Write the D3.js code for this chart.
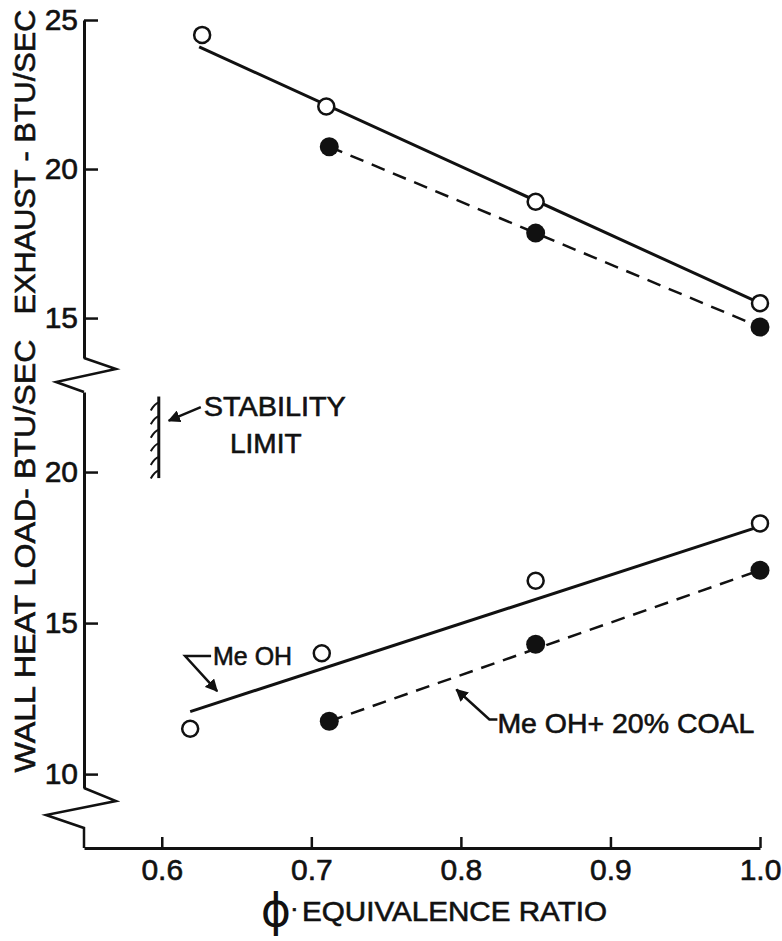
<!DOCTYPE html>
<html>
<head>
<meta charset="utf-8">
<script src="https://cdn.jsdelivr.net/npm/d3@7"></script>
<style>
  body { margin: 0; background: #fff; }
  text { font-family: "Liberation Sans", Arial, sans-serif; fill: #111; stroke: #111; stroke-width: 0.6; }
</style>
</head>
<body>
<div id="chart"></div>
<script>
// values
const xTicks = [0.6, 0.7, 0.8, 0.9, 1.0];
const yTicksTop = [15, 20, 25];
const yTicksBot = [10, 15, 20];

// exhaust (upper panel)
const phiMeOHTop = [0.627, 0.71, 0.85, 1.0];
const exhaustMeOH = [24.5, 22.1, 18.9, 15.5];
const phiCoal = [0.712, 0.85, 1.0];
const exhaustCoal = [20.75, 17.85, 14.7];
// fitted lines (ends)
const exhaustFitPhi = [0.625, 1.0];
const exhaustFitMeOH = [24.1, 15.5];
const exhaustFitCoal = [20.75, 14.7];

// wall heat load (lower panel)
const phiMeOHBot = [0.619, 0.707, 0.85, 1.0];
const wallMeOH = [11.5, 14.0, 16.4, 18.3];
const wallCoal = [11.75, 14.3, 16.75];
const wallFitPhi = [0.619, 1.0];
const wallFitMeOH = [12.07, 18.2];
const wallFitCoalPhi = [0.712, 1.0];
const wallFitCoal = [11.75, 16.75];

// stability limit bar
const stabPhi = 0.598;
const stabRange = [22.5, 19.8];

const W = 782, H = 941;
const axisX = 84, axisY = 848;

const svg = d3.select("#chart").append("svg")
    .attr("width", W)
    .attr("height", H);

svg.append("defs").append("marker")
    .attr("id", "arr")
    .attr("viewBox", "0 0 10 10")
    .attr("refX", 9).attr("refY", 5)
    .attr("markerWidth", 5).attr("markerHeight", 5)
    .attr("markerUnits", "strokeWidth")
    .attr("orient", "auto")
  .append("path")
    .attr("d", "M0,0 L10,5 L0,10 z")
    .attr("fill", "#111");

// scales
const x = d3.scaleLinear().domain([0.548, 1.0]).range([axisX, 760]);
const yTop = d3.scaleLinear().domain([13.66, 25]).range([358, 20]);
const yBot = d3.scaleLinear().domain([9.54, 22.65]).range([788, 392]);

function styleAxis(g) {
  g.selectAll(".domain").attr("stroke", "#111").attr("stroke-width", 3);
  g.selectAll(".tick line").attr("stroke", "#111").attr("stroke-width", 2.5);
  g.selectAll(".tick text").attr("font-size", 30).attr("fill", "#111")
    .attr("font-family", "Liberation Sans, Arial, sans-serif");
}

// y axes
svg.append("g")
  .attr("transform", "translate(" + axisX + ",0)")
  .call(d3.axisLeft(yTop).tickValues(yTicksTop).tickFormat(d3.format("d"))
    .tickSize(-14).tickSizeOuter(0).tickPadding(6))
  .call(styleAxis);

svg.append("g")
  .attr("transform", "translate(" + axisX + ",0)")
  .call(d3.axisLeft(yBot).tickValues(yTicksBot).tickFormat(d3.format("d"))
    .tickSize(-14).tickSizeOuter(0).tickPadding(6))
  .call(styleAxis);

// x axis
svg.append("g")
  .attr("transform", "translate(0," + axisY + ")")
  .call(d3.axisBottom(x).tickValues(xTicks).tickFormat(d3.format(".1f"))
    .tickSize(-11).tickSizeOuter(0).tickPadding(11))
  .call(styleAxis);

// axis breaks (zigzags)
const zig = d3.line();
svg.append("path")
  .attr("d", zig([[axisX, yTop.range()[0]], [axisX + 32, 369], [axisX - 28, 382], [axisX, yBot.range()[1]]]))
  .attr("fill", "none").attr("stroke", "#111").attr("stroke-width", 2.5);
svg.append("path")
  .attr("d", zig([[axisX, yBot.range()[0]], [axisX + 32, 801], [axisX - 38, 815], [axisX, 828], [axisX, axisY]]))
  .attr("fill", "none").attr("stroke", "#111").attr("stroke-width", 2.5);

// axis titles
svg.append("text")
  .attr("transform", "translate(35,162) rotate(-90)")
  .attr("text-anchor", "middle")
  .attr("font-size", 30)
  .attr("textLength", 305).attr("lengthAdjust", "spacingAndGlyphs")
  .text("EXHAUST - BTU/SEC");

svg.append("text")
  .attr("transform", "translate(35,556) rotate(-90)")
  .attr("text-anchor", "middle")
  .attr("font-size", 30)
  .attr("textLength", 433).attr("lengthAdjust", "spacingAndGlyphs")
  .text("WALL HEAT LOAD- BTU/SEC");

svg.append("text")
  .attr("x", 276).attr("y", 926)
  .attr("text-anchor", "middle")
  .attr("font-size", 46)
  .style("font-family", "DejaVu Sans")
  .style("stroke-width", 0)
  .text("\u03D5");
svg.append("text")
  .attr("x", 290).attr("y", 917)
  .attr("font-size", 26)
  .text("\u00B7");
svg.append("text")
  .attr("x", 302).attr("y", 921)
  .attr("font-size", 28)
  .attr("textLength", 305).attr("lengthAdjust", "spacingAndGlyphs")
  .text("EQUIVALENCE  RATIO");

// lines
const line2 = (xs, ys, yScale) => d3.line()
  .x(d => x(d[0])).y(d => yScale(d[1]))(d3.zip(xs, ys));

svg.append("path")
  .attr("d", line2(exhaustFitPhi, exhaustFitMeOH, yTop))
  .attr("fill", "none").attr("stroke", "#111").attr("stroke-width", 3);
svg.append("path")
  .attr("d", line2([phiCoal[0], phiCoal[2]], exhaustFitCoal, yTop))
  .attr("fill", "none").attr("stroke", "#111").attr("stroke-width", 2.5)
  .attr("stroke-dasharray", "14,9");

svg.append("path")
  .attr("d", line2(wallFitPhi, wallFitMeOH, yBot))
  .attr("fill", "none").attr("stroke", "#111").attr("stroke-width", 3);
svg.append("path")
  .attr("d", line2(wallFitCoalPhi, wallFitCoal, yBot))
  .attr("fill", "none").attr("stroke", "#111").attr("stroke-width", 2.5)
  .attr("stroke-dasharray", "14,9");

// points
function openPts(xs, ys, yScale) {
  svg.append("g").selectAll("circle")
    .data(d3.zip(xs, ys))
    .join("circle")
      .attr("cx", d => x(d[0])).attr("cy", d => yScale(d[1]))
      .attr("r", 8).attr("fill", "#fff")
      .attr("stroke", "#111").attr("stroke-width", 2.5);
}
function filledPts(xs, ys, yScale) {
  svg.append("g").selectAll("circle")
    .data(d3.zip(xs, ys))
    .join("circle")
      .attr("cx", d => x(d[0])).attr("cy", d => yScale(d[1]))
      .attr("r", 9.5).attr("fill", "#111");
}
openPts(phiMeOHTop, exhaustMeOH, yTop);
filledPts(phiCoal, exhaustCoal, yTop);
openPts(phiMeOHBot, wallMeOH, yBot);
filledPts(phiCoal, wallCoal, yBot);

// stability limit
const sx = x(stabPhi);
svg.append("line")
  .attr("x1", sx).attr("x2", sx)
  .attr("y1", yBot(stabRange[0])).attr("y2", yBot(stabRange[1]))
  .attr("stroke", "#111").attr("stroke-width", 3);
svg.append("g").selectAll("path")
  .data(d3.range(stabRange[0] - 0.2, stabRange[1], -0.45))
  .join("path")
    .attr("d", d => "M" + sx + "," + yBot(d) + " q-4,1 -8,8")
    .attr("fill", "none").attr("stroke", "#111").attr("stroke-width", 2);
svg.append("line")
  .attr("x1", sx + 42).attr("y1", yBot(22.15))
  .attr("x2", sx + 10).attr("y2", yBot(21.7))
  .attr("stroke", "#111").attr("stroke-width", 2.5)
  .attr("marker-end", "url(#arr)");
svg.append("text")
  .attr("x", sx + 45).attr("y", 416)
  .attr("font-size", 28)
  .attr("textLength", 142).attr("lengthAdjust", "spacingAndGlyphs")
  .text("STABILITY");
svg.append("text")
  .attr("x", sx + 107).attr("y", 453)
  .attr("text-anchor", "middle")
  .attr("font-size", 28)
  .text("LIMIT");

// series labels with leaders
const meohTip = [0.637, 12.75];
const mx = x(meohTip[0]), my = yBot(meohTip[1]);
svg.append("path")
  .attr("d", "M" + (mx - 6) + "," + (my - 35) + " H" + (mx - 32) + " L" + mx + "," + my)
  .attr("fill", "none").attr("stroke", "#111").attr("stroke-width", 2.5)
  .attr("marker-end", "url(#arr)");
svg.append("text")
  .attr("x", mx - 4).attr("y", my - 26)
  .attr("font-size", 26)
  .attr("textLength", 79).attr("lengthAdjust", "spacingAndGlyphs")
  .text("Me OH");

const coalTip = [0.797, 12.8];
const cx = x(coalTip[0]), cy = yBot(coalTip[1]);
svg.append("path")
  .attr("d", "M" + (cx + 41) + "," + (cy + 30) + " H" + (cx + 33) + " L" + cx + "," + cy)
  .attr("fill", "none").attr("stroke", "#111").attr("stroke-width", 2.5)
  .attr("marker-end", "url(#arr)");
svg.append("text")
  .attr("x", cx + 41).attr("y", cy + 43)
  .attr("font-size", 28)
  .attr("textLength", 257).attr("lengthAdjust", "spacingAndGlyphs")
  .text("Me OH+ 20% COAL");
</script>
</body>
</html>
